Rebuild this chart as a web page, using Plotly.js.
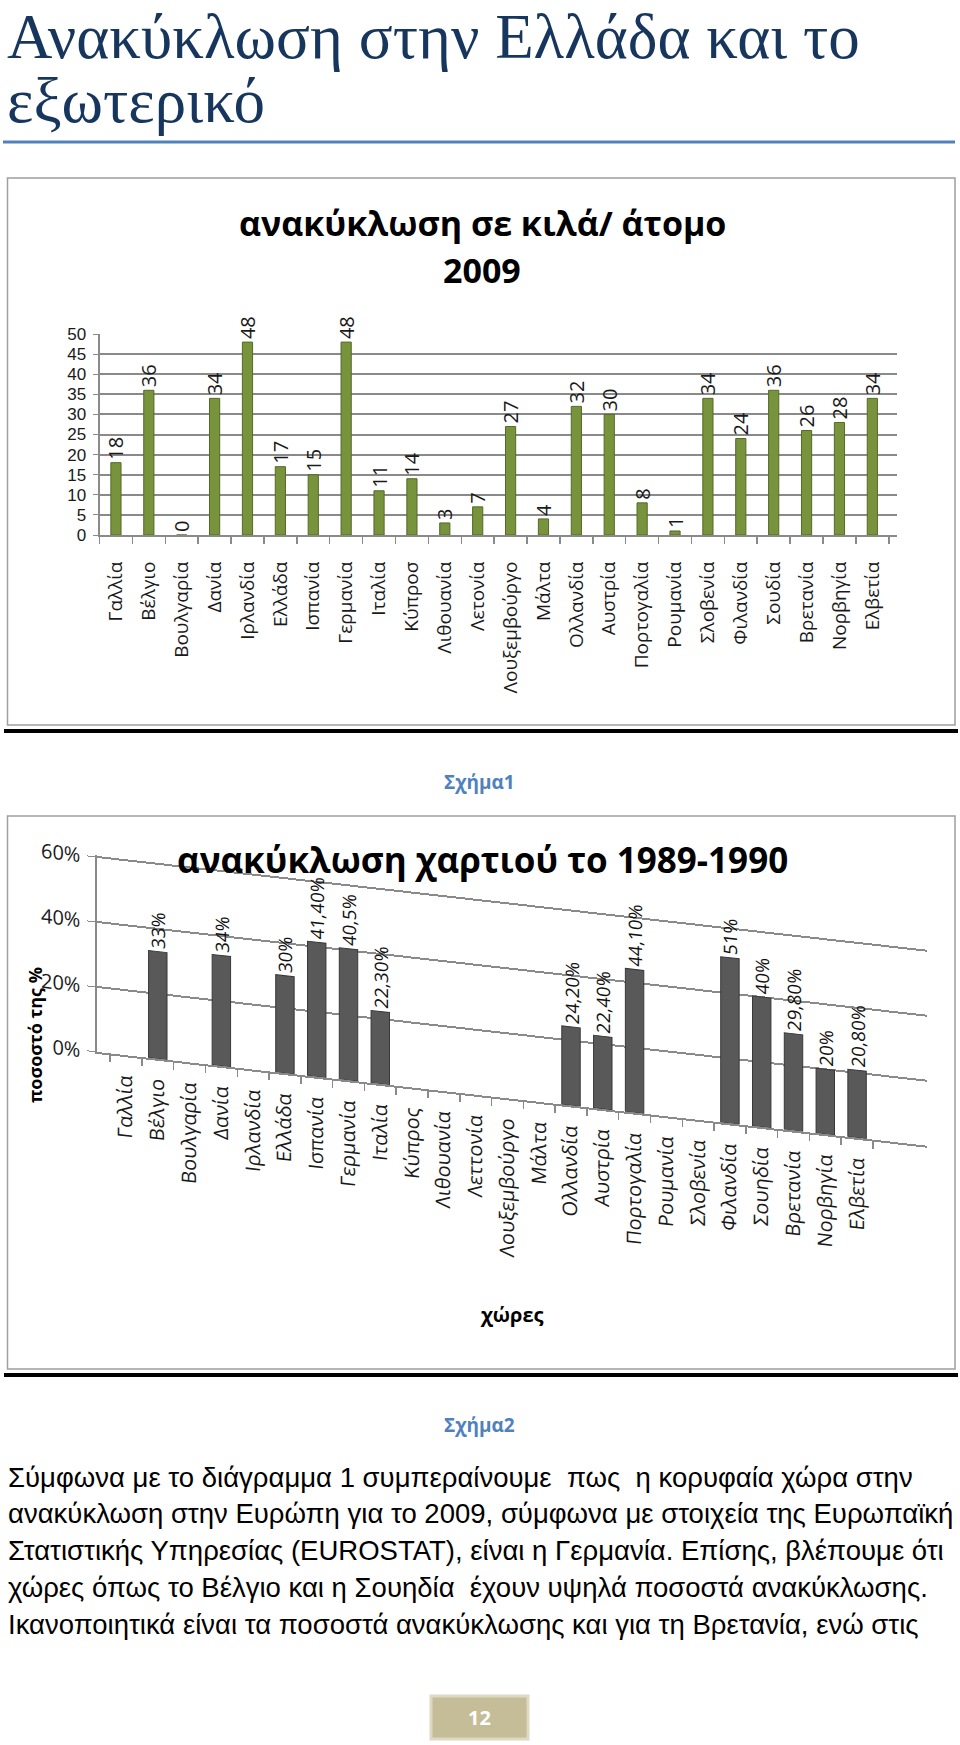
<!DOCTYPE html>
<html>
<head>
<meta charset="utf-8">
<script src="https://cdn.plot.ly/plotly-3.0.1.min.js"></script>
<style>
html,body{margin:0;padding:0;background:#ffffff;}
#page{width:960px;height:1745px;}
</style>
</head>
<body>
<div id="page"></div>
<script>
// ---------- data ----------
const countries2009 = ['Γαλλία','Βέλγιο','Βουλγαρία','Δανία','Ιρλανδία','Ελλάδα','Ισπανία','Γερμανία','Ιταλία','Κύπροσ','Λιθουανία','Λετονία','Λουξεμβούργο','Μάλτα','Ολλανδία','Αυστρία','Πορτογαλία','Ρουμανία','Σλοβενία','Φιλανδία','Σουδία','Βρετανία','Νορβηγία','Ελβετία'];
const kgPerPerson2009 = [18,36,0,34,48,17,15,48,11,14,3,7,27,4,32,30,8,1,34,24,36,26,28,34];

const countriesPaper = ['Γαλλία','Βέλγιο','Βουλγαρία','Δανία','Ιρλανδία','Ελλάδα','Ισπανία','Γερμανία','Ιταλία','Κύπρος','Λιθουανία','Λεττονία','Λουξεμβούργο','Μάλτα','Ολλανδία','Αυστρία','Πορτογαλία','Ρουμανία','Σλοβενία','Φιλανδία','Σουηδία','Βρετανία','Νορβηγία','Ελβετία'];
const paperRecycling = [null,0.33,null,0.34,null,0.30,0.414,0.405,0.223,null,null,null,null,null,0.242,0.224,0.441,null,null,0.51,0.40,0.298,0.20,0.208];
const paperLabels = ['','33%','','34%','','30%','41,40%','40,5%','22,30%','','','','','','24,20%','22,40%','44,10%','','','51%','40%','29,80%','20%','20,80%'];

const pageTitle = ['Ανακύκλωση στην Ελλάδα και το','εξωτερικό'];
const chart1Title = ['ανακύκλωση σε κιλά/ άτομο','2009'];
const chart2Title = 'ανακύκλωση χαρτιού το 1989-1990';
const chart2YTitle = 'ποσοστό της %';
const chart2XTitle = 'χώρες';
const captions = ['Σχήμα1','Σχήμα2'];
const paragraph = [
  'Σύμφωνα με το διάγραμμα 1 συμπεραίνουμε  πως  η κορυφαία χώρα στην',
  'ανακύκλωση στην Ευρώπη για το 2009, σύμφωνα με στοιχεία της Ευρωπαϊκή',
  'Στατιστικής Υπηρεσίας (EUROSTAT), είναι η Γερμανία. Επίσης, βλέπουμε ότι',
  'χώρες όπως το Βέλγιο και η Σουηδία  έχουν υψηλά ποσοστά ανακύκλωσης.',
  'Ικανοποιητικά είναι τα ποσοστά ανακύκλωσης και για τη Βρετανία, ενώ στις'
];
const pageNumber = '12';

// ---------- page geometry helpers ----------
const W = 960, H = 1745;
const fx = v => v / W;
const fy = v => 1 - v / H;

function hasFont(name){
  const c = document.createElement('canvas').getContext('2d');
  const s = 'abcdefghijklm ΑΒΓΔαβγδεζ 0123456789';
  c.font = '40px monospace'; const a = c.measureText(s).width;
  c.font = '40px "' + name + '", monospace'; const b = c.measureText(s).width;
  c.font = '40px serif'; const a2 = c.measureText(s).width;
  c.font = '40px "' + name + '", serif'; const b2 = c.measureText(s).width;
  return a !== b || a2 !== b2;
}
function fitSize(text, family, target, maxSize){
  const c = document.createElement('canvas').getContext('2d');
  c.font = '100px ' + family;
  const w = c.measureText(text).width;
  return Math.min(maxSize, 100 * target / w);
}

const SANS = '"Open Sans", "Noto Sans", "DejaVu Sans", sans-serif';
const SERIF = (hasFont('Liberation Serif') ? '"Liberation Serif"' : '"DejaVu Serif"') + ', serif';
const BODY = '"Liberation Sans", Arial, sans-serif';
const bodySize = fitSize(paragraph[1], BODY, 946, 29);
const titleSize = fitSize(pageTitle[0], SERIF, 856, 63);

function note(text, x, y, font, extra){
  return Object.assign({
    text: text, x: fx(x), y: fy(y), xref: 'paper', yref: 'paper',
    showarrow: false, xanchor: 'center', yanchor: 'middle', font: font
  }, extra || {});
}

// ---------- traces ----------
const trace1 = {
  type: 'bar', x: countries2009, y: kgPerPerson2009,
  xaxis: 'x', yaxis: 'y', width: 0.31,
  marker: {color: '#77933C', line: {color: '#56692B', width: 1}},
  text: kgPerPerson2009.map(String), textposition: 'outside', textangle: -90,
  textfont: {family: SANS, size: 20, color: '#1a1a1a'},
  cliponaxis: false, constraintext: 'none', hoverinfo: 'skip'
};
const trace2 = {
  type: 'bar', x: countriesPaper, y: paperRecycling,
  xaxis: 'x2', yaxis: 'y2', width: 0.58,
  marker: {color: '#595959', line: {color: '#383838', width: 1}},
  text: paperLabels, textposition: 'outside', textangle: -90,
  textfont: {family: SANS, size: 18.5, color: '#111'},
  cliponaxis: false, constraintext: 'none', hoverinfo: 'skip'
};

const gridGrey = '#8a8a8a';
const tickFont = {family: SANS, size: 20, color: '#1a1a1a'};

const layout = {
  width: W, height: H,
  margin: {l: 0, r: 0, t: 0, b: 0},
  paper_bgcolor: '#ffffff', plot_bgcolor: 'rgba(0,0,0,0)',
  showlegend: false, bargap: 0,
  xaxis: {
    domain: [fx(99.5), fx(897)], anchor: 'y', type: 'category',
    range: [-0.5, 23.75], tickangle: -90, tickfont: {family: SANS, size: 19, color: '#1a1a1a'},
    showline: true, linecolor: gridGrey, linewidth: 2,
    ticks: 'outside', tickson: 'boundaries', ticklen: 7, tickcolor: gridGrey, tickwidth: 1.5,
    ticklabelstandoff: 17, showgrid: false, fixedrange: true
  },
  yaxis: {
    domain: [fy(535), fy(334)], anchor: 'x', range: [0, 50.01], dtick: 5,
    tickfont: {family: '"Liberation Sans", Arial, sans-serif', size: 17, color: '#1a1a1a'},
    showgrid: true, gridcolor: gridGrey, gridwidth: 2,
    showline: true, linecolor: gridGrey, linewidth: 2,
    ticks: 'outside', ticklen: 5, tickcolor: gridGrey, zeroline: false,
    ticklabelstandoff: 3, fixedrange: true
  },
  xaxis2: {
    domain: [fx(97.4), fx(927)], anchor: 'y2', type: 'category',
    range: [-0.9, 25.2], tickangle: -90, tickfont: tickFont,
    showline: true, linecolor: gridGrey, linewidth: 2,
    ticks: 'outside', tickson: 'boundaries', ticklen: 7, tickcolor: gridGrey, tickwidth: 1.5,
    ticklabelstandoff: 10, showgrid: false, fixedrange: true
  },
  yaxis2: {
    domain: [fy(1052), fy(855.4)], anchor: 'x2', range: [0, 0.605], dtick: 0.2,
    tickformat: '.0%', tickfont: tickFont, showgrid: true, gridcolor: gridGrey, gridwidth: 2,
    showline: true, linecolor: gridGrey, linewidth: 2,
    ticks: 'outside', ticklen: 8, tickcolor: gridGrey, zeroline: false,
    ticklabelstandoff: 3, fixedrange: true
  },
  shapes: [
    {type: 'line', xref: 'paper', yref: 'paper', x0: fx(3), x1: fx(955), y0: fy(142), y1: fy(142), line: {color: '#4F81BD', width: 3}},
    {type: 'rect', xref: 'paper', yref: 'paper', x0: fx(7.5), x1: fx(955), y0: fy(178), y1: fy(725), line: {color: '#9f9f9f', width: 1.5}},
    {type: 'line', xref: 'paper', yref: 'paper', x0: fx(4), x1: fx(958), y0: fy(731), y1: fy(731), line: {color: '#000', width: 4}},
    {type: 'rect', xref: 'paper', yref: 'paper', x0: fx(7.5), x1: fx(955), y0: fy(816), y1: fy(1369), line: {color: '#9f9f9f', width: 1.5}},
    {type: 'line', xref: 'paper', yref: 'paper', x0: fx(4), x1: fx(958), y0: fy(1375), y1: fy(1375), line: {color: '#000', width: 4}},
    {type: 'rect', xref: 'paper', yref: 'paper', x0: fx(431), x1: fx(528), y0: fy(1696), y1: fy(1739), fillcolor: '#C4BD97', line: {color: '#DDD9C3', width: 3}}
  ],
  annotations: [
    note(pageTitle[0], 6, 37, {family: SERIF, size: titleSize, color: '#17365D'}, {xanchor: 'left', borderpad: 0}),
    note(pageTitle[1], 6, 101, {family: SERIF, size: titleSize, color: '#17365D'}, {xanchor: 'left', borderpad: 0}),
    note(chart1Title[0], 482, 223, {family: SANS, size: 34, color: '#000', weight: 'bold'}),
    note(chart1Title[1], 482, 270, {family: SANS, size: 34, color: '#000', weight: 'bold'}),
    note(captions[0], 479, 782, {family: SANS, size: 19, color: '#4F81BD', weight: 'bold'}),
    note(chart2Title, 482, 859, {family: SANS, size: 35, color: '#000', weight: 'bold'}),
    note(chart2YTitle, 35, 1035, {family: SANS, size: 18, color: '#000', weight: 'bold'}, {textangle: -90}),
    note(chart2XTitle, 512, 1314, {family: SANS, size: 20, color: '#000', weight: 'bold'}),
    note(captions[1], 479, 1425, {family: SANS, size: 19, color: '#4F81BD', weight: 'bold'})
  ].concat(paragraph.map((t, i) => note(t, 6, 1477 + 36.8 * i, {family: BODY, size: bodySize, color: '#000'}, {xanchor: 'left'})))
   .concat([note(pageNumber, 479.5, 1717.5, {family: SANS, size: 20, color: '#ffffff', weight: 'bold'})])
};

Plotly.newPlot('page', [trace1, trace2], layout, {displayModeBar: false, staticPlot: true}).then(gd => {
  // emulate the receding 3-D floor of figure 2 with a vertical shear of its plot area
  const k = 0.113, x0 = 97.4;
  const g = gd.querySelector('.cartesianlayer .subplot.x2y2');
  if (g) g.setAttribute('transform', 'matrix(1,' + k + ',0,1,0,' + (-k * x0) + ')');
});
</script>
</body>
</html>
